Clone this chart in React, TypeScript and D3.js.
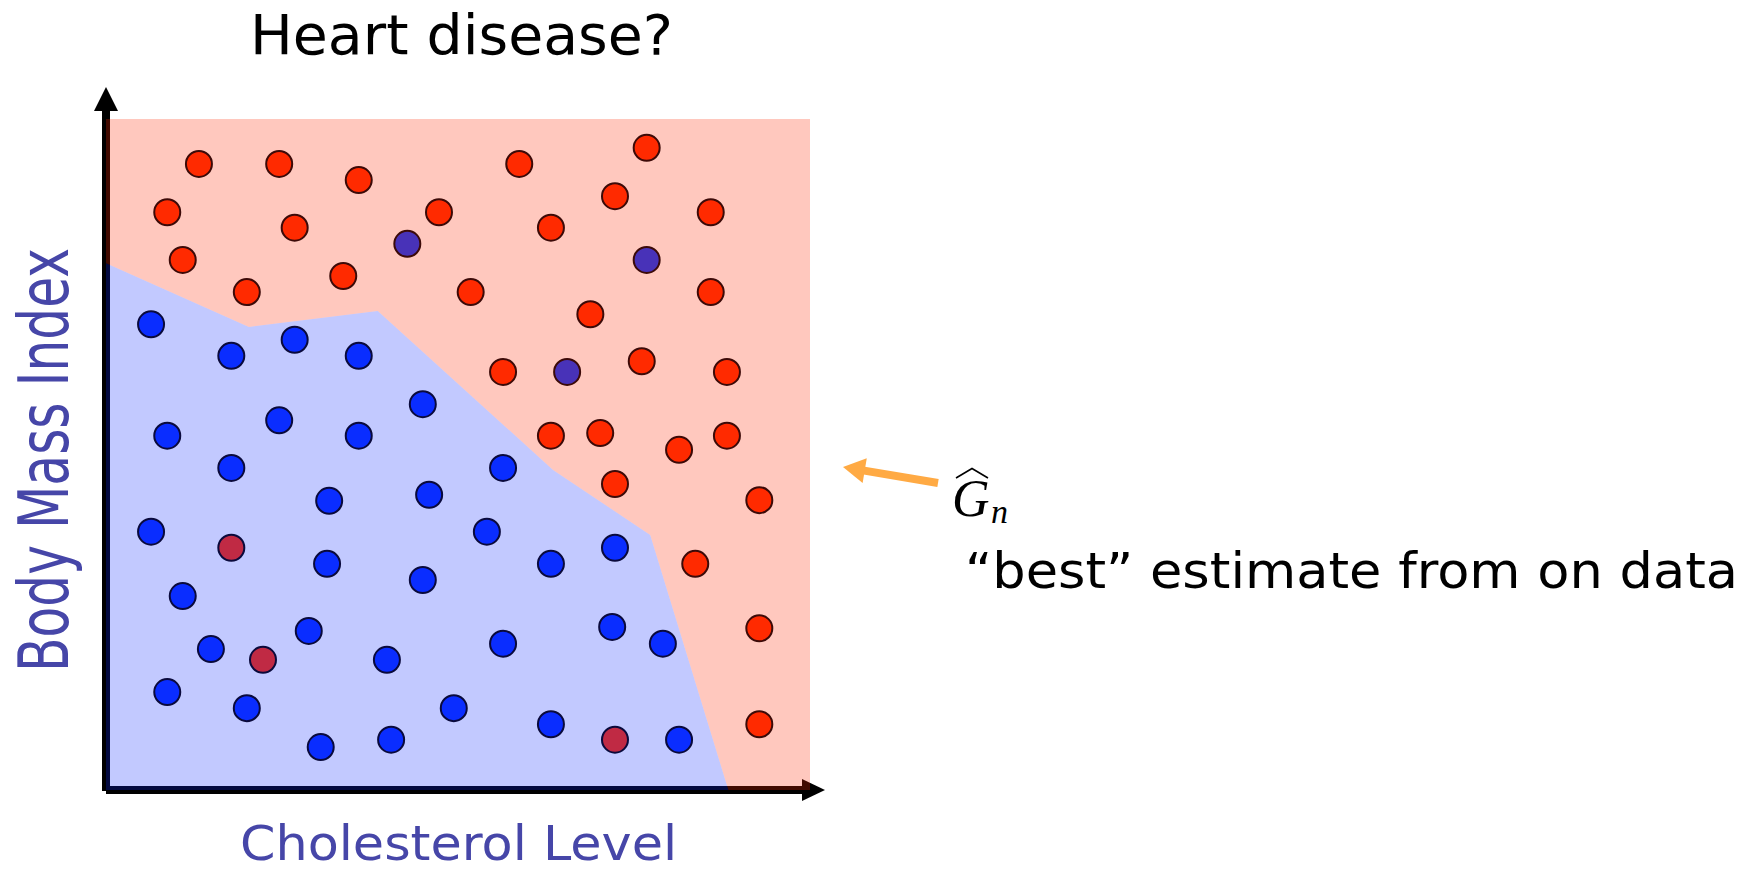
import React from "react";
import * as d3 from "d3";

// Data (cholesterol level, body mass index) in 0..100 units
const redPoints: [number, number][] = [
  [13.2, 93.3], [24.6, 93.3], [35.9, 90.9], [8.7, 86.1], [47.3, 86.1],
  [26.8, 83.8], [10.9, 79.0], [33.7, 76.6], [20.0, 74.2], [58.7, 93.3],
  [76.8, 95.7], [72.3, 88.5], [85.9, 86.1], [63.2, 83.8], [51.8, 74.2],
  [85.9, 74.2], [68.8, 70.9], [56.4, 62.3], [76.1, 63.9], [88.2, 62.3],
  [63.2, 52.8], [70.2, 53.2], [81.4, 50.7], [88.2, 52.8], [72.3, 45.6],
  [92.8, 43.2], [83.7, 33.7], [92.8, 24.1], [92.8, 9.8],
];
const purplePoints: [number, number][] = [
  [42.8, 81.4], [76.8, 79.0], [65.5, 62.3],
];
const bluePoints: [number, number][] = [
  [6.4, 69.4], [17.8, 64.7], [26.8, 67.1], [35.9, 64.7], [45.0, 57.5],
  [24.6, 55.1], [8.7, 52.8], [35.9, 52.8], [17.8, 48.0], [31.7, 43.1],
  [45.9, 44.0], [6.4, 38.5], [31.4, 33.7], [45.0, 31.3], [10.9, 28.9],
  [28.8, 23.7], [14.9, 21.0], [39.9, 19.4], [8.7, 14.6], [20.0, 12.2],
  [49.4, 12.2], [30.5, 6.4], [40.5, 7.5], [56.4, 48.0], [54.1, 38.5],
  [63.2, 33.7], [72.3, 36.1], [56.4, 21.8], [71.9, 24.3], [79.1, 21.8],
  [63.2, 9.8], [81.4, 7.5],
];
const darkRedPoints: [number, number][] = [
  [17.8, 36.1], [22.3, 19.4], [72.3, 7.5],
];
// decision boundary (estimate G_n)
const boundary: [number, number][] = [
  [0, 78.5], [20.3, 69.0], [38.6, 71.4], [63.5, 47.7], [77.3, 38.0], [88.4, 0],
];

const title = "Heart disease?";
const xLabel = "Cholesterol  Level";
const yLabel = "Body Mass Index";
const estLabel = "\u201Cbest\u201D  estimate from on data";

const W = 1752;
const H = 872;

export default function App() {
  const x = d3.scaleLinear().domain([0, 100]).range([106, 810]);
  const y = d3.scaleLinear().domain([0, 100]).range([790, 119]);
  const line = d3.line<[number, number]>().x((d) => x(d[0])).y((d) => y(d[1]));

  const bluePoly: [number, number][] = [[0, 0], ...boundary, [0, 0]];
  const pinkPoly: [number, number][] = [
    ...boundary.slice().reverse(),
    [0, 78.5],
    [0, 100],
    [100, 100],
    [100, 0],
    [88.4, 0],
  ];

  const r = 13;
  const dot = (pts: [number, number][], fill: string, stroke: string, key: string) =>
    pts.map((p, i) => (
      <circle key={key + i} cx={x(p[0])} cy={y(p[1])} r={r} fill={fill} stroke={stroke} strokeWidth={2} />
    ));

  // axes
  const ax0 = x(0);
  const ay0 = y(0);
  const axisTop = 87;
  const axisRight = 825;

  // annotation arrow geometry
  const tail = [938, 483];
  const tip = [843, 467];
  const dx = tip[0] - tail[0];
  const dy = tip[1] - tail[1];
  const len = Math.hypot(dx, dy);
  const ux = dx / len;
  const uy = dy / len;
  const hl = 22;
  const hw = 12.5;
  const bx = tip[0] - hl * ux;
  const by = tip[1] - hl * uy;
  const px = -uy;
  const py = ux;

  return (
    <svg
      width={W}
      height={H}
      viewBox={`0 0 ${W} ${H}`}
      style={{ position: "absolute", left: 0, top: 0, display: "block", background: "#fff" }}
    >
      {/* title */}
      <text
        x={250}
        y={54}
        fontFamily="DejaVu Sans"
        fontSize={55}
        textLength={423}
        lengthAdjust="spacingAndGlyphs"
        fill="#000"
      >
        {title}
      </text>

      {/* axes (drawn beneath translucent regions) */}
      <line x1={ax0} y1={ay0 + 1} x2={ax0} y2={axisTop + 22} stroke="#000" strokeWidth={8} />
      <polygon points={`${ax0},${axisTop} ${ax0 - 12},${axisTop + 24} ${ax0 + 12},${axisTop + 24}`} fill="#000" />
      <line x1={ax0} y1={ay0} x2={axisRight - 20} y2={ay0} stroke="#000" strokeWidth={8} />
      <polygon points={`${axisRight},${ay0} ${axisRight - 23},${ay0 - 11} ${axisRight - 23},${ay0 + 11}`} fill="#000" />

      {/* decision regions */}
      <path d={line(pinkPoly) + "Z"} fill="rgb(255,40,0)" fillOpacity={0.255} />
      <path d={line(bluePoly) + "Z"} fill="rgb(10,40,255)" fillOpacity={0.25} />

      {/* points */}
      {dot(redPoints, "#FF2A00", "#3C0A08", "r")}
      {dot(purplePoints, "#4832B8", "#3C0A08", "p")}
      {dot(bluePoints, "#0A2DFF", "#0A0A3C", "b")}
      {dot(darkRedPoints, "#C02A44", "#0A0A3C", "d")}

      {/* axis labels */}
      <text
        x={240}
        y={860}
        fontFamily="DejaVu Sans"
        fontSize={48}
        textLength={437}
        lengthAdjust="spacingAndGlyphs"
        fill="#4646A8"
      >
        {xLabel}
      </text>
      <text
        transform="translate(68,672) rotate(-90)"
        x={0}
        y={0}
        fontFamily="DejaVu Sans"
        fontSize={70}
        textLength={424}
        lengthAdjust="spacingAndGlyphs"
        fill="#4646A8"
      >
        {yLabel}
      </text>

      {/* estimate annotation */}
      <line x1={tail[0]} y1={tail[1]} x2={bx + 2 * ux} y2={by + 2 * uy} stroke="#FFAA44" strokeWidth={8} />
      <polygon
        points={`${tip[0]},${tip[1]} ${bx + hw * px},${by + hw * py} ${bx - hw * px},${by - hw * py}`}
        fill="#FFAA44"
      />
      <path d="M956,478 L972,468.5 L988,478" fill="none" stroke="#000" strokeWidth={1.6} />
      <text x={952} y={516} fontFamily="Liberation Serif" fontStyle="italic" fontSize={52} fill="#000">
        G
      </text>
      <text x={991} y={523} fontFamily="Liberation Serif" fontStyle="italic" fontSize={34} fill="#000">
        n
      </text>
      <text
        x={965}
        y={588}
        fontFamily="DejaVu Sans"
        fontSize={50}
        textLength={773}
        lengthAdjust="spacingAndGlyphs"
        fill="#000"
      >
        {estLabel}
      </text>
    </svg>
  );
}
